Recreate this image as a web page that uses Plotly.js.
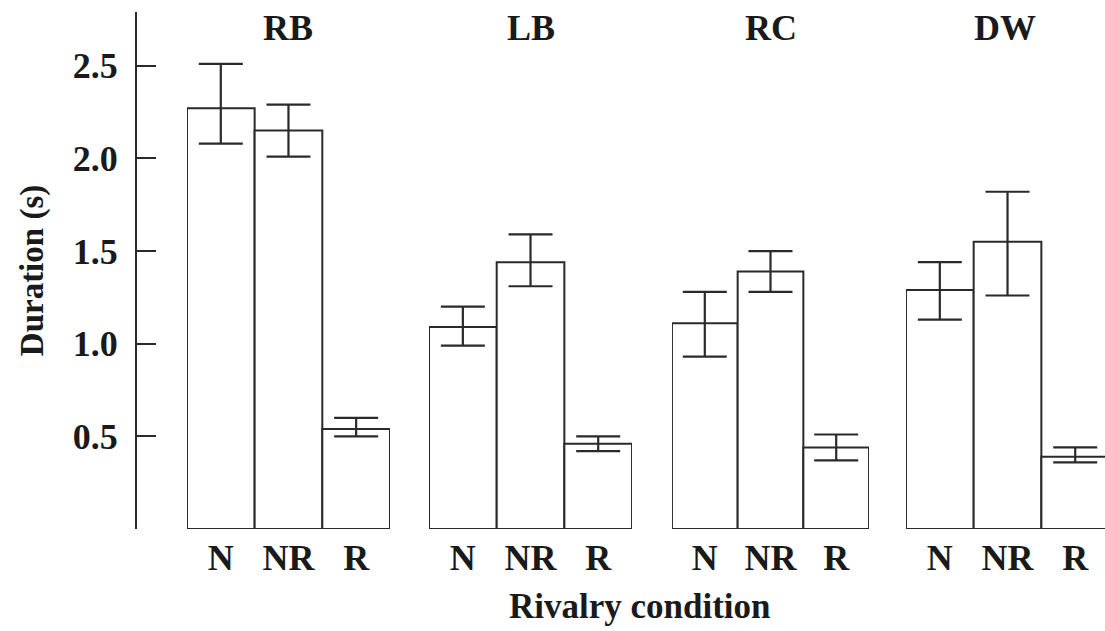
<!DOCTYPE html>
<html>
<head>
<meta charset="utf-8">
<script src="https://cdn.plot.ly/plotly-3.0.1.min.js"></script>
<style>html,body{margin:0;padding:0;background:#fff;}#chart{width:1105px;height:631px;}</style>
</head>
<body>
<div id="chart"></div>
<script>
// ---- data ----
const groups = ['RB', 'LB', 'RC', 'DW'];
const conditions = ['N', 'NR', 'R'];

const rbMean  = [2.27, 2.15, 0.54];
const rbUpper = [2.51, 2.29, 0.60];
const rbLower = [2.08, 2.01, 0.50];

const lbMean  = [1.09, 1.44, 0.46];
const lbUpper = [1.20, 1.59, 0.50];
const lbLower = [0.99, 1.31, 0.42];

const rcMean  = [1.11, 1.39, 0.44];
const rcUpper = [1.28, 1.50, 0.51];
const rcLower = [0.93, 1.28, 0.37];

const dwMean  = [1.29, 1.55, 0.39];
const dwUpper = [1.44, 1.82, 0.44];
const dwLower = [1.13, 1.26, 0.36];

const yTickVals = [0, 0.5, 1.0, 1.5, 2.0, 2.5];
const yTickText = ['', '0.5', '1.0', '1.5', '2.0', '2.5'];

const yTitle = 'Duration (s)';
const xTitle = 'Rivalry condition';

// ---- styling ----
const means  = [rbMean, lbMean, rcMean, dwMean];
const uppers = [rbUpper, lbUpper, rcUpper, dwUpper];
const lowers = [rbLower, lbLower, rcLower, dwLower];

const FONT = 'Liberation Serif, Times New Roman, serif';
const INK = '#1a1a1a';
const domains = [[0.0526, 0.2621], [0.3024, 0.5119], [0.5531, 0.7565], [0.7946, 1.0]];
const ranges = [[-0.5, 2.5], [-0.5, 2.5], [-0.5, 2.5], [-0.5, 2.44]];

const traces = groups.map((g, i) => ({
  type: 'bar',
  name: g,
  x: conditions,
  y: means[i],
  xaxis: i === 0 ? 'x' : 'x' + (i + 1),
  yaxis: 'y',
  width: 1,
  marker: { color: '#ffffff', line: { color: '#2a2a2a', width: 2 } },
  error_y: {
    type: 'data',
    symmetric: false,
    array: uppers[i].map((u, k) => u - means[i][k]),
    arrayminus: lowers[i].map((l, k) => means[i][k] - l),
    color: '#2a2a2a',
    thickness: 2.2,
    width: 22
  },
  hoverinfo: 'x+y'
}));

const layout = {
  width: 1105,
  height: 631,
  margin: { l: 136, r: 0, t: 12, b: 102 },
  paper_bgcolor: '#ffffff',
  plot_bgcolor: '#ffffff',
  showlegend: false,
  bargap: 0,
  font: { family: FONT, color: INK },
  yaxis: {
    range: [0, 2.79],
    anchor: 'free',
    position: 0,
    tickmode: 'array',
    tickvals: yTickVals,
    ticktext: yTickText,
    ticks: 'inside',
    ticklen: 19,
    tickwidth: 2,
    tickcolor: '#2a2a2a',
    showline: true,
    linecolor: '#2a2a2a',
    linewidth: 2,
    showgrid: false,
    zeroline: false,
    ticklabelstandoff: 10,
    tickfont: { family: FONT, size: 36, weight: 'bold', color: INK },
    title: { text: yTitle, font: { family: FONT, size: 33, weight: 'bold', color: INK }, standoff: 18 }
  },
  annotations: [
    {
      text: xTitle, xref: 'paper', yref: 'paper', x: 0.52, y: -0.150,
      xanchor: 'center', yanchor: 'middle', showarrow: false,
      font: { family: FONT, size: 35, weight: 'bold', color: INK }
    }
  ]
};

groups.forEach((g, i) => {
  const key = i === 0 ? 'xaxis' : 'xaxis' + (i + 1);
  layout[key] = {
    domain: domains[i],
    anchor: 'y',
    type: 'category',
    range: ranges[i],
    showline: false,
    showgrid: false,
    zeroline: false,
    ticks: '',
    ticklabelstandoff: 4,
    tickfont: { family: FONT, size: 36, weight: 'bold', color: INK }
  };
  layout.annotations.push({
    text: g,
    xref: (i === 0 ? 'x' : 'x' + (i + 1)) + ' domain',
    yref: 'paper',
    x: 0.5, y: 0.970,
    xanchor: 'center', yanchor: 'middle', showarrow: false,
    font: { family: FONT, size: 36, weight: 'bold', color: INK }
  });
});

Plotly.newPlot('chart', traces, layout, { displayModeBar: false, staticPlot: true });
</script>
</body>
</html>
